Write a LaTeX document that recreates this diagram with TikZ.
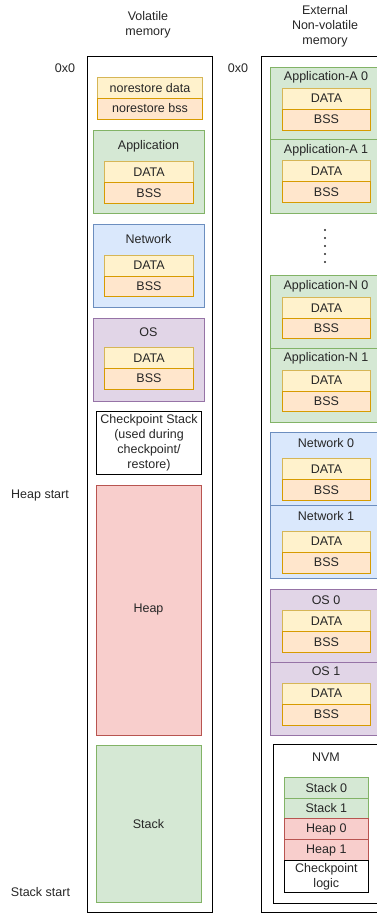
\documentclass[tikz,border=0pt]{standalone}
\usepackage{fontspec}
\setmainfont{Liberation Sans}
\definecolor{grnfill}{HTML}{D5E8D4}
\definecolor{grnline}{HTML}{82B366}
\definecolor{blufill}{HTML}{DAE8FC}
\definecolor{bluline}{HTML}{6C8EBF}
\definecolor{purfill}{HTML}{E1D5E7}
\definecolor{purline}{HTML}{9673A6}
\definecolor{redfill}{HTML}{F8CECC}
\definecolor{redline}{HTML}{B85450}
\definecolor{datfill}{HTML}{FFF2CC}
\definecolor{datline}{HTML}{D6B656}
\definecolor{bssfill}{HTML}{FFE6CC}
\definecolor{bssline}{HTML}{D79B00}
\begin{document}
\begin{tikzpicture}[x=1pt,y=-1pt,
    every node/.style={font=\fontsize{12.5}{15}\selectfont, text=black!85},
    blk/.style={draw, inner sep=0pt, anchor=north west, line width=1pt},
    grn/.style={blk, fill=grnfill, draw=grnline},
    blu/.style={blk, fill=blufill, draw=bluline},
    pur/.style={blk, fill=purfill, draw=purline},
    red/.style={blk, fill=redfill, draw=redline},
    dat/.style={blk, fill=datfill, draw=datline, minimum height=21pt},
    bss/.style={blk, fill=bssfill, draw=bssline, minimum height=21pt},
    lbl/.style={align=center, inner sep=0pt}]
  \useasboundingbox (0,0) rectangle (377,914);
  \clip (0,0) rectangle (377,914);

  % headings and addresses
  \node[lbl] (voltitle) at (148,25) {Volatile\\memory};
  \node[lbl] (nvtitle) at (325,26) {External\\Non-volatile\\memory};
  \node[lbl] (voladdr) at (65,68) {0x0};
  \node[lbl] (nvaddr) at (238,68) {0x0};
  \node[lbl] (heapstart) at (40,495) {Heap start};
  \node[lbl] (stackstart) at (40.5,892) {Stack start};

  % volatile memory
  \node[blk, minimum width=125.5pt, minimum height=856pt] (vol) at (86.5,56) {};
  \node[dat, minimum width=105pt, minimum height=20.5pt] (nrdata) at (97,77) {norestore data};
  \node[bss, minimum width=105pt] (nrbss) at (97,97.5) {norestore bss};

  \node[grn, minimum width=111pt, minimum height=83pt] (app) at (93,129.5) {};
  \node[lbl] (apptitle) at (148.5,146) {Application};
  \node[dat, minimum width=89pt] (appdata) at (104,161) {DATA};
  \node[bss, minimum width=89pt, minimum height=20.5pt] (appbss) at (104,182) {BSS};

  \node[blu, minimum width=111pt, minimum height=83pt] (net) at (93,223.5) {};
  \node[lbl] (nettitle) at (148.5,239.5) {Network};
  \node[dat, minimum width=89pt] (netdata) at (104,254.5) {DATA};
  \node[bss, minimum width=89pt, minimum height=20.5pt] (netbss) at (104,275.5) {BSS};

  \node[pur, minimum width=111pt, minimum height=83pt] (os) at (93,317.5) {};
  \node[lbl] (ostitle) at (148.5,332) {OS};
  \node[dat, minimum width=89pt, minimum height=20.5pt] (osdata) at (104,347) {DATA};
  \node[bss, minimum width=89pt] (osbss) at (104,367.5) {BSS};

  \node[blk, align=center, minimum width=105pt, minimum height=62.5pt] (ckstack) at (96,411)
    {Checkpoint Stack\\(used during\\checkpoint/\\restore)};
  \node[red, minimum width=105pt, minimum height=250.5pt] (heap) at (96,484.5) {};
  \node[lbl] (heaplbl) at (148.5,609) {Heap};
  \node[grn, minimum width=105pt, minimum height=157pt] (stack) at (96,745) {};
  \node[lbl] (stacklbl) at (148.5,824) {Stack};

  % external non-volatile memory
  \node[blk, minimum width=140pt, minimum height=856pt] (nv) at (260.5,56) {};

  \node[grn, minimum width=112pt, minimum height=72.6pt] (appa0) at (270,66.7) {};
  \node[lbl] (appa0title) at (326,77.5) {Application-A 0};
  \node[dat, minimum width=88pt] (appa0data) at (282,87.5) {DATA};
  \node[bss, minimum width=88pt] (appa0bss) at (282,108.5) {BSS};

  \node[grn, minimum width=112pt, minimum height=73.4pt] (appa1) at (270,139.3) {};
  \node[lbl] (appa1title) at (326,150.7) {Application-A 1};
  \node[dat, minimum width=88pt] (appa1data) at (282,160) {DATA};
  \node[bss, minimum width=88pt] (appa1bss) at (282,181.3) {BSS};

  \foreach \k in {0,...,4}
    \fill[black!85] (325,230+8*\k) circle (1.2);

  \node[grn, minimum width=112pt, minimum height=73.3pt] (appn0) at (270,275) {};
  \node[lbl] (appn0title) at (326,286) {Application-N 0};
  \node[dat, minimum width=88pt] (appn0data) at (282,296.7) {DATA};
  \node[bss, minimum width=88pt, minimum height=20.5pt] (appn0bss) at (282,317.7) {BSS};

  \node[grn, minimum width=112pt, minimum height=73.4pt] (appn1) at (270,348.3) {};
  \node[lbl] (appn1title) at (326,358.3) {Application-N 1};
  \node[dat, minimum width=88pt] (appn1data) at (282,369.5) {DATA};
  \node[bss, minimum width=88pt, minimum height=20.5pt] (appn1bss) at (282,390.5) {BSS};

  \node[blu, minimum width=112pt, minimum height=72.7pt] (net0) at (270,432.3) {};
  \node[lbl] (net0title) at (326,443.3) {Network 0};
  \node[dat, minimum width=88pt] (net0data) at (282,458) {DATA};
  \node[bss, minimum width=88pt] (net0bss) at (282,479) {BSS};

  \node[blu, minimum width=112pt, minimum height=72.7pt] (net1) at (270,505) {};
  \node[lbl] (net1title) at (326,515.7) {Network 1};
  \node[dat, minimum width=88pt] (net1data) at (282,530.5) {DATA};
  \node[bss, minimum width=88pt] (net1bss) at (282,551.5) {BSS};

  \node[pur, minimum width=112pt, minimum height=73pt] (os0) at (270,589.3) {};
  \node[lbl] (os0title) at (326,600) {OS 0};
  \node[dat, minimum width=88pt] (os0data) at (282,610) {DATA};
  \node[bss, minimum width=88pt] (os0bss) at (282,631) {BSS};

  \node[pur, minimum width=112pt, minimum height=72.7pt] (os1) at (270,662.3) {};
  \node[lbl] (os1title) at (326,671) {OS 1};
  \node[dat, minimum width=88pt] (os1data) at (282,682.5) {DATA};
  \node[bss, minimum width=88pt] (os1bss) at (282,703.5) {BSS};

  \node[blk, minimum width=105pt, minimum height=158.4pt] (nvm) at (273.3,744.3) {};
  \node[lbl] (nvmtitle) at (326,756.7) {NVM};
  \node[grn, minimum width=83.7pt, minimum height=21pt] (stk0) at (284,776.7) {Stack 0};
  \node[grn, minimum width=83.7pt, minimum height=20.6pt] (stk1) at (284,797.7) {Stack 1};
  \node[red, minimum width=83.7pt, minimum height=20.7pt] (hp0) at (284,818.3) {Heap 0};
  \node[red, minimum width=83.7pt, minimum height=21pt] (hp1) at (284,839) {Heap 1};
  \node[blk, align=center, minimum width=83.7pt, minimum height=31.7pt] (cklogic) at (284,860)
    {Checkpoint\\logic};
\end{tikzpicture}
\end{document}
